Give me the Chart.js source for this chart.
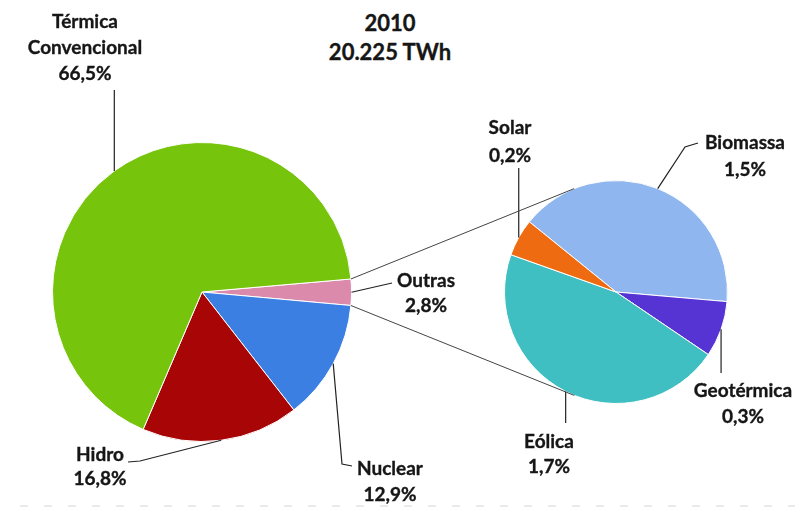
<!DOCTYPE html>
<html>
<head>
<meta charset="utf-8">
<script src="https://cdn.jsdelivr.net/npm/chart.js@4.4.1/dist/chart.umd.min.js"></script>
<style>
  body { margin: 0; background: #fff; }
  #wrap { position: relative; width: 795px; height: 513px; overflow: hidden;
          font-family: Lato, "Open Sans", sans-serif; font-weight: bold; color: #161616;
          -webkit-text-stroke: 0.35px #161616; }
  canvas { position: absolute; }
  .lbl { position: absolute; transform: translateX(-50%); text-align: center; white-space: nowrap; font-size: 19px; }
  #title { position: absolute; left: 390px; top: 8px; transform: translateX(-50%); text-align: center;
           font-size: 22px; line-height: 29px; white-space: nowrap; }
</style>
</head>
<body>
<div id="wrap">
  <div id="title">2010<br>20.225 TWh</div>
  <canvas id="mainPie" width="300" height="300" style="left:52px;top:142px"></canvas>
  <canvas id="otherPie" width="224" height="224" style="left:504px;top:180px"></canvas>
  <canvas id="lines" width="795" height="513" style="left:0;top:0"></canvas>
</div>
<script>
// main pie (share of total)
const mainLabels = ['Outras', 'Nuclear', 'Hidro', 'Térmica\nConvencional'];
const mainValues = [2.8, 12.9, 16.8, 66.5];
const mainColors = ['#DC8AAB', '#3B7FE2', '#A80506', '#77C40C'];

// breakdown of "Outras"
const otherLabels = ['Biomassa', 'Geotérmica', 'Eólica', 'Solar'];
const otherValues = [1.5, 0.3, 1.7, 0.2];
const otherColors = ['#8FB6EF', '#5634D4', '#40BFC2', '#EE6B12'];

// label placement: text centre x, top y, line height, and leader line end points
const mainLayout = [
    { x: 426, top: 267, lh: 25, path: [[392, 283]] },
    { x: 390, top: 455, lh: 26, path: [[342, 464], [352, 466]] },
    { x: 100, top: 442, lh: 24, path: [[140, 461], [128, 462]] },
    { x: 85, top: 8, lh: 26, path: [[null, 90]] }
];
const otherLayout = [
    { x: 745, top: 128, lh: 27, path: [[685, 147], [698, 143]] },
    { x: 743, top: 377, lh: 26, path: [[null, 373]] },
    { x: 549, top: 428, lh: 25, path: [[null, 423]] },
    { x: 510, top: 113, lh: 28, path: [[null, 168]] }
];

function pct(v) {
    return v.toFixed(1).replace('.', ',') + '%';
}

function makePie(id, labels, values, colors, rotation) {
    return new Chart(document.getElementById(id), {
        type: 'pie',
        data: {
            labels: labels,
            datasets: [{
                data: values,
                backgroundColor: colors,
                borderColor: '#ffffff',
                borderWidth: 1
            }]
        },
        options: {
            responsive: false,
            animation: false,
            rotation: rotation,
            layout: { padding: 0 },
            plugins: { legend: { display: false }, tooltip: { enabled: false } }
        }
    });
}

const mainChart = makePie('mainPie', mainLabels, mainValues, mainColors, 85);
const otherChart = makePie('otherPie', otherLabels, otherValues, otherColors, -51);

// arc geometry in page coordinates
function arcGeom(chart, i) {
    const a = chart.getDatasetMeta(0).data[i];
    return {
        x: a.x + chart.canvas.offsetLeft,
        y: a.y + chart.canvas.offsetTop,
        r: a.outerRadius,
        start: a.startAngle,
        end: a.endAngle
    };
}

const wrap = document.getElementById('wrap');
const ctx = document.getElementById('lines').getContext('2d');

function addLabels(chart, labels, values, layout) {
    labels.forEach((name, i) => {
        const lay = layout[i];
        const div = document.createElement('div');
        div.className = 'lbl';
        div.style.left = lay.x + 'px';
        div.style.top = lay.top + 'px';
        div.style.lineHeight = lay.lh + 'px';
        div.innerHTML = name.replace('\n', '<br>') + '<br>' + pct(values[i]);
        wrap.appendChild(div);

        // leader line from the middle of the slice edge
        const g = arcGeom(chart, i);
        const mid = (g.start + g.end) / 2;
        const sx = g.x + g.r * Math.cos(mid);
        const sy = g.y + g.r * Math.sin(mid);
        ctx.beginPath();
        ctx.moveTo(sx, sy);
        lay.path.forEach(p => ctx.lineTo(p[0] === null ? sx : p[0], p[1]));
        ctx.strokeStyle = '#222';
        ctx.lineWidth = 1.2;
        ctx.stroke();
    });
}

addLabels(mainChart, mainLabels, mainValues, mainLayout);
addLabels(otherChart, otherLabels, otherValues, otherLayout);

// connector lines from the "Outras" slice to the second pie (tangents)
const outras = arcGeom(mainChart, 0);
const small = arcGeom(otherChart, 0);
[[outras.start, -1], [outras.end, 1]].forEach(([ang, side]) => {
    const px = outras.x + outras.r * Math.cos(ang);
    const py = outras.y + outras.r * Math.sin(ang);
    const dx = px - small.x, dy = py - small.y;
    const d = Math.hypot(dx, dy);
    const t = Math.atan2(dy, dx) - side * Math.acos(small.r / d);
    ctx.beginPath();
    ctx.moveTo(px, py);
    ctx.lineTo(small.x + small.r * Math.cos(t), small.y + small.r * Math.sin(t));
    ctx.strokeStyle = '#444';
    ctx.lineWidth = 1;
    ctx.stroke();
});

// faint dashed rule along the bottom edge
ctx.beginPath();
ctx.setLineDash([8, 16]);
ctx.moveTo(20, 506);
ctx.lineTo(795, 506);
ctx.strokeStyle = '#e4e4e4';
ctx.lineWidth = 1.5;
ctx.stroke();
ctx.setLineDash([]);
</script>
</body>
</html>
